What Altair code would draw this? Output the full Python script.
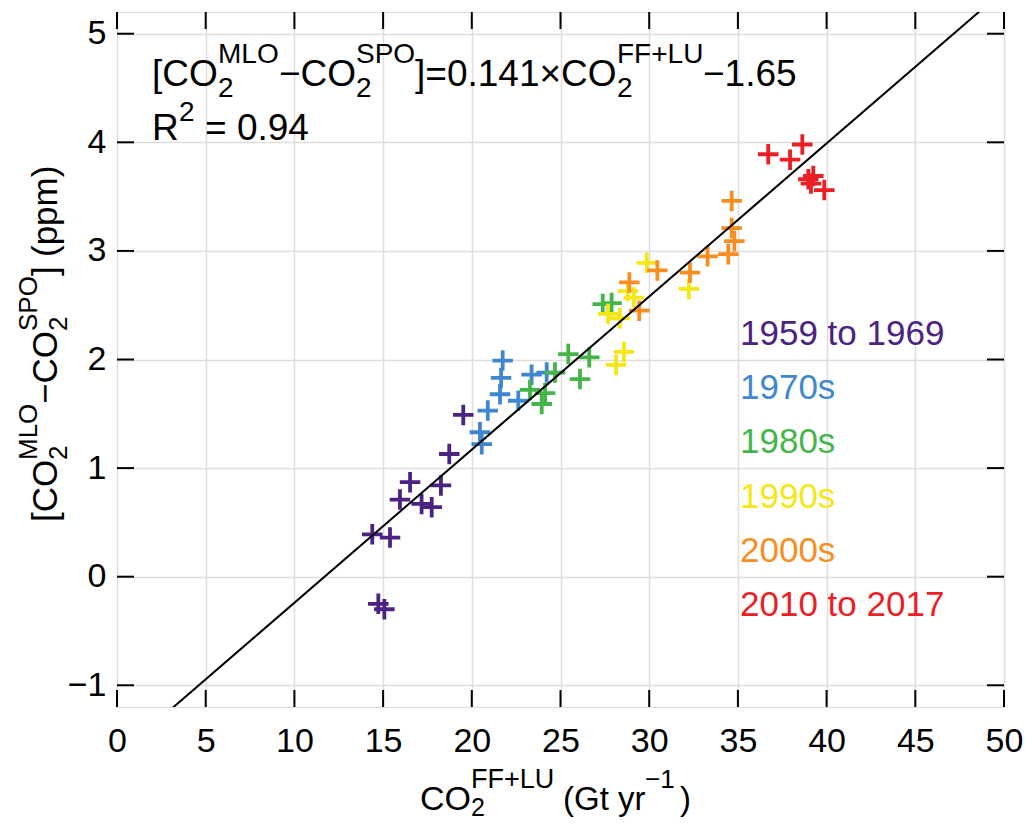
import altair as alt
import pandas as pd

FONT = "Liberation Sans"

# Emissions (Gt CO2 / yr) and MLO - SPO difference (ppm), grouped by period
periods = ["1959 to 1969", "1970s", "1980s", "1990s", "2000s", "2010 to 2017"]
colors = ["#4b2383", "#4187cf", "#44b649", "#f4e713", "#f88e22", "#ec1f26"]

emis_1960s = [14.39, 15.39, 14.73, 15.07, 15.95, 16.52, 17.17, 17.74, 18.26, 18.73, 19.52]
diff_1960s = [0.39, 0.36, -0.25, -0.30, 0.71, 0.87, 0.67, 0.64, 0.84, 1.13, 1.49]

emis_1970s = [20.46, 20.56, 20.90, 21.59, 21.65, 21.74, 22.62, 23.37, 24.22]
diff_1970s = [1.33, 1.22, 1.53, 1.68, 1.83, 1.99, 1.62, 1.86, 1.88]

emis_1980s = [23.28, 23.94, 24.13, 24.69, 25.44, 26.10, 26.62, 27.38, 27.88]
diff_1980s = [1.72, 1.59, 1.69, 1.88, 2.05, 1.82, 2.02, 2.51, 2.52]

emis_1990s = [29.86, 28.80, 29.14, 27.68, 28.35, 28.58, 28.13, 32.24]
diff_1990s = [2.89, 2.63, 2.57, 2.42, 2.38, 2.07, 1.95, 2.65]

emis_2000s = [28.88, 30.46, 29.44, 32.30, 33.29, 34.46, 34.80, 34.65, 34.65]
diff_2000s = [2.71, 2.82, 2.45, 2.80, 2.95, 2.97, 3.09, 3.21, 3.46]

emis_2010s = [36.71, 37.94, 38.63, 38.97, 39.25, 39.12, 39.87]
diff_2010s = [3.89, 3.84, 3.98, 3.66, 3.69, 3.62, 3.56]

fit_slope = 0.141
fit_intercept = -1.65
fit_r2 = 0.94

x_ticks = [0, 5, 10, 15, 20, 25, 30, 35, 40, 45, 50]
y_ticks = [-1, 0, 1, 2, 3, 4, 5]

series = [
    (emis_1960s, diff_1960s),
    (emis_1970s, diff_1970s),
    (emis_1980s, diff_1980s),
    (emis_1990s, diff_1990s),
    (emis_2000s, diff_2000s),
    (emis_2010s, diff_2010s),
]
rows = []
for period, (xs_, ys_) in zip(periods, series):
    for xv, yv in zip(xs_, ys_):
        rows.append({"emis": xv, "diff": yv, "period": period})
points = pd.DataFrame(rows)

line_x = [0, 50]
fit_line = pd.DataFrame({"emis": line_x, "diff": [fit_slope * v + fit_intercept for v in line_x]})

# plot area geometry (pixels) and its offset inside the page
W, H = 887, 695
OX, OY = 117, 12
TICK = 17

xs = alt.Scale(domain=[0, 50], nice=False, zero=False)
ys = alt.Scale(domain=[-1.2, 5.2], nice=False, zero=False)

x_axis = alt.Axis(values=x_ticks, grid=True, gridColor="#dedede", gridWidth=1.5, ticks=False,
                  domain=False, labelFontSize=34, labelFont=FONT, labelColor="black",
                  labelPadding=17, title=None, labelFlush=False)
y_axis = alt.Axis(values=y_ticks, grid=True, gridColor="#dedede", gridWidth=1.5, ticks=False,
                  domain=False, labelFontSize=34, labelFont=FONT, labelColor="black",
                  labelPadding=11, title=None)

scatter = alt.Chart(points).mark_point(
    shape="M-1,0L1,0M0,-1L0,1", filled=False, strokeWidth=3.8, size=420, opacity=1,
    strokeCap="butt"
).encode(
    x=alt.X("emis:Q", scale=xs, axis=x_axis),
    y=alt.Y("diff:Q", scale=ys, axis=y_axis),
    color=alt.Color("period:N", scale=alt.Scale(domain=periods, range=colors), legend=None),
)

fit = alt.Chart(fit_line).mark_line(color="black", strokeWidth=2, clip=True).encode(
    x=alt.X("emis:Q", scale=xs, axis=x_axis),
    y=alt.Y("diff:Q", scale=ys, axis=y_axis),
)

# inward tick marks on all four sides of the frame
xt = pd.DataFrame({"emis": x_ticks})
yt = pd.DataFrame({"diff": y_ticks})
tick_style = dict(color="black", strokeWidth=2)
ticks_bottom = alt.Chart(xt).mark_rule(**tick_style).encode(
    x=alt.X("emis:Q", scale=xs, axis=x_axis), y=alt.value(H), y2=alt.value(H - TICK))
ticks_top = alt.Chart(xt).mark_rule(**tick_style).encode(
    x=alt.X("emis:Q", scale=xs, axis=x_axis), y=alt.value(0), y2=alt.value(TICK))
ticks_left = alt.Chart(yt).mark_rule(**tick_style).encode(
    y=alt.Y("diff:Q", scale=ys, axis=y_axis), x=alt.value(0), x2=alt.value(TICK))
ticks_right = alt.Chart(yt).mark_rule(**tick_style).encode(
    y=alt.Y("diff:Q", scale=ys, axis=y_axis), x=alt.value(W), x2=alt.value(W - TICK))

anchor = pd.DataFrame({"a": [0]})


def piece(text, px, py, size, angle=0, color="black"):
    """One run of text, left-aligned on its baseline at page position (px, py)."""
    kw = dict(text=text, align="left", baseline="alphabetic", fontSize=size,
              font=FONT, color=color)
    if angle:
        kw["angle"] = angle
    return alt.Chart(anchor).mark_text(**kw).encode(
        x=alt.value(px - OX), y=alt.value(py - OY))


# fitted relation and its R^2, with sub/superscripts laid out run by run
S, s = 37, 28
eq = [
    piece("[CO", 152, 86, S),
    piece("MLO", 218, 63, s), piece("2", 218, 97, s),
    piece("\u2212CO", 279, 86, S),
    piece("SPO", 356, 63, s), piece("2", 356, 97, s),
    piece(f"]={fit_slope}\u00d7CO", 415, 86, S),
    piece("FF+LU", 617, 63, s), piece("2", 617, 97, s),
    piece(f"\u2212{abs(fit_intercept)}", 703, 86, S),
    piece("R", 152, 140, S), piece("2", 179, 121, s),
    piece(f"= {fit_r2}", 205, 140, S),
]

# x-axis title
xtitle = [
    piece("CO", 420, 810, 34),
    piece("FF+LU", 471, 788, 27), piece("2", 471, 816, 25),
    piece("(Gt yr", 563, 810, 33),
    piece("\u22121", 645, 788, 26),
    piece(")", 680, 810, 33),
]

# y-axis title, rotated to read bottom-to-top
T, t = 35, 26
ytitle = [
    piece("[CO", 57, 522, T, angle=270),
    piece("MLO", 37, 460, t, angle=270), piece("2", 67, 460, t, angle=270),
    piece("\u2212CO", 57, 404, T, angle=270),
    piece("SPO", 37, 331, t, angle=270), piece("2", 67, 331, t, angle=270),
    piece("]", 57, 276, T, angle=270),
    piece("(ppm)", 57, 257, T, angle=270),
]

legend_y = [345, 399, 453, 508, 562, 616]
legend = [piece(p, 740, ly, 35, color=c) for p, c, ly in zip(periods, colors, legend_y)]

chart = alt.layer(
    scatter, fit, ticks_bottom, ticks_top, ticks_left, ticks_right,
    *eq, *xtitle, *ytitle, *legend
).properties(
    width=W, height=H,
    autosize=alt.AutoSizeParams(type="none"),
    padding={"left": OX, "top": OY, "right": 1026 - OX - W, "bottom": 824 - OY - H},
).configure_view(
    stroke="black", strokeWidth=2
).configure(background="white")

chart.save("out.html", embed_options={"renderer": "svg", "actions": False})
